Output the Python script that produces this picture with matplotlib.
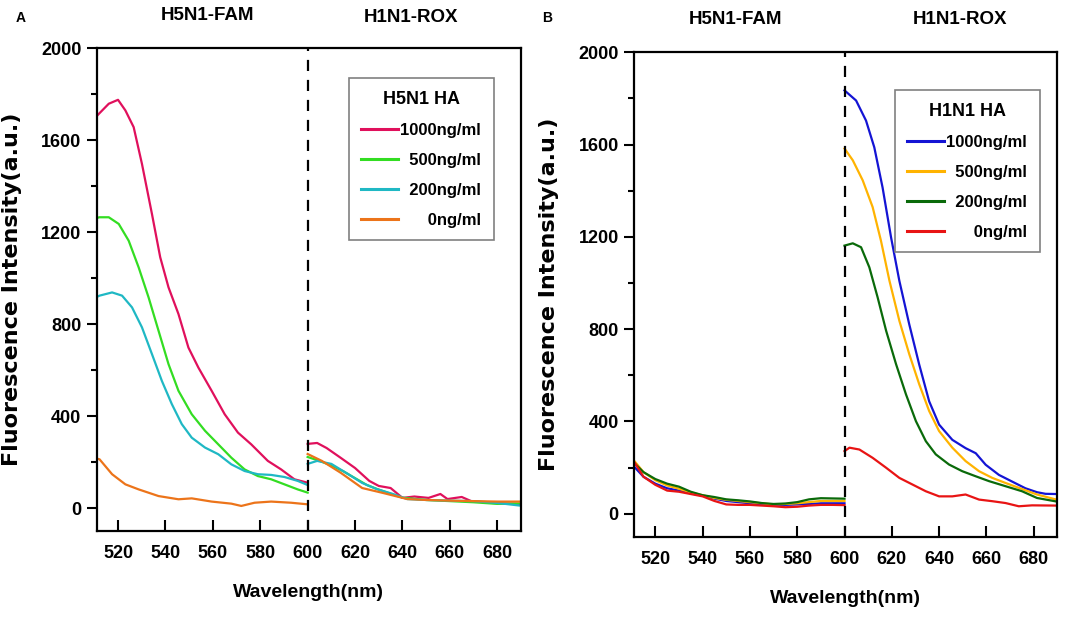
import matplotlib.pyplot as plt
from matplotlib.ticker import MultipleLocator

bold_font = ['Liberation Sans', 'DejaVu Sans']

# ---------------- panel A : H5N1 HA ----------------
a_labels = ["1000ng/ml", "500ng/ml", "200ng/ml", "0ng/ml"]
a_colors = ["#e0105c", "#33dd22", "#1fb8c4", "#ec741a"]

# FAM channel (511-600 nm)
a_fam_wl = {
    "1000": [511, 512.2, 516.1, 520.0, 523.1, 526.6, 530.1, 534.3, 537.8, 541.3, 545.5, 549.7,
             553.9, 559.5, 565.0, 570.6, 576.2, 583.2, 588.8, 594.4, 600],
    "500": [511, 512.2, 516.1, 520.3, 524.5, 528.7, 532.9, 537.1, 541.3, 545.5, 551.1, 556.7,
            562.3, 567.8, 573.4, 579.0, 584.6, 590.2, 595.8, 600],
    "200": [511, 512.2, 517.5, 521.7, 525.9, 530.1, 534.3, 538.5, 542.7, 546.9, 551.1, 556.7,
            562.3, 567.8, 573.4, 579.0, 584.6, 590.2, 595.8, 600],
    "0": [511, 512.2, 517.5, 523.1, 528.7, 537.1, 545.5, 551.1, 559.5, 567.8, 572.0, 577.6,
          584.6, 593.0, 600],
}
a_fam_val = {
    "1000": [1705, 1718, 1759, 1776, 1730, 1657, 1497, 1280, 1091, 960, 844, 698,
             611, 510, 408, 328, 277, 205, 168, 125, 110],
    "500": [1262, 1265, 1265, 1236, 1163, 1047, 916, 771, 626, 510, 408, 336,
            277, 219, 168, 139, 125, 103, 81, 67],
    "200": [918, 924, 938, 924, 873, 786, 670, 553, 452, 365, 306, 263,
            234, 190, 161, 147, 144, 135, 118, 100],
    "0": [215, 212, 147, 103, 81, 52, 38, 42, 28, 19, 9, 23, 28, 23, 16],
}
# ROX channel (600-690 nm)
a_rox_wl = {
    "1000": [600, 604, 608, 614, 620, 626, 630, 635, 640, 645, 651, 656, 659, 665, 669, 678, 690],
    "500": [600, 605, 610, 615, 620, 625, 630, 635, 640, 650, 660, 670, 680, 690],
    "200": [600, 604, 610, 617, 623, 629, 636, 642, 650, 660, 670, 680, 690],
    "0": [600, 606, 614, 623, 632, 642, 650, 660, 670, 680, 690],
}
a_rox_val = {
    "1000": [279, 283, 261, 218, 174, 118, 96, 87, 44, 50, 44, 61, 39, 48, 30, 22, 17],
    "500": [222, 205, 185, 160, 130, 100, 80, 62, 45, 35, 30, 25, 18, 20],
    "200": [192, 205, 192, 148, 109, 83, 61, 39, 35, 32, 30, 22, 10],
    "0": [235, 205, 153, 87, 65, 39, 35, 32, 30, 28, 28],
}

# ---------------- panel B : H1N1 HA ----------------
b_labels = ["1000ng/ml", "500ng/ml", "200ng/ml", "0ng/ml"]
b_colors = ["#1414d4", "#ffb300", "#0a6a0a", "#e81414"]

b_fam_wl = [511, 515, 520, 525, 530, 535, 540, 545, 550, 555, 560, 565, 570, 575, 580, 585, 590, 595, 600]
b_fam_val = {
    "1000": [204, 160, 130, 110, 100, 88, 78, 65, 55, 50, 45, 40, 38, 38, 40, 42, 45, 45, 45],
    "500": [230, 180, 145, 122, 108, 92, 80, 68, 60, 55, 50, 45, 40, 42, 45, 50, 55, 55, 55],
    "200": [220, 180, 150, 130, 117, 95, 80, 72, 62, 58, 53, 46, 42, 44, 50, 62, 67, 66, 65],
    "0": [225, 160, 125, 100, 95, 85, 75, 55, 40, 38, 38, 35, 32, 28, 30, 35, 38, 38, 37],
}
b_rox_wl = {
    "1000": [600, 604.9, 609.1, 612.6, 616.1, 619.7, 623.2, 627.4, 631.6, 635.8, 640, 645.6,
             651.2, 655.5, 659.7, 665.3, 670.9, 676.5, 681.4, 685, 690],
    "500": [600, 603.5, 607.7, 611.9, 615.4, 619, 623.2, 627.4, 631.6, 635.8, 640, 645.6,
            651.2, 656.9, 662.5, 668.1, 673.7, 681.4, 690],
    "200": [600, 603.5, 607, 610.5, 614, 617.6, 621.8, 626, 630.2, 634.4, 638.6, 644.2,
            649.8, 655.5, 661.1, 668.1, 675.1, 681.4, 690],
    "0": [600, 602.1, 606.3, 611.9, 617.6, 623.2, 628.8, 634.4, 640, 645.6, 651.2, 656.9,
          662.5, 668.1, 673.7, 679.3, 690],
}
b_rox_val = {
    "1000": [1835, 1791, 1704, 1588, 1414, 1197, 1009, 820, 646, 487, 386, 320,
             284, 262, 212, 168, 139, 110, 93, 86, 85],
    "500": [1583, 1532, 1445, 1329, 1184, 1010, 836, 691, 561, 445, 358, 286,
            228, 184, 155, 133, 112, 83, 60],
    "200": [1162, 1172, 1155, 1068, 938, 793, 648, 517, 401, 314, 257, 213,
            184, 162, 141, 119, 97, 68, 52],
    "0": [271, 286, 278, 242, 199, 155, 126, 97, 75, 75, 83, 61, 54, 46, 32, 36, 35],
}

keys = ["1000", "500", "200", "0"]

fig = plt.figure(figsize=(10.84, 6.22), dpi=100)
ax_a = fig.add_axes([0.0892, 0.1463, 0.3914, 0.776])
ax_b = fig.add_axes([0.5849, 0.1371, 0.3905, 0.7788])


def style_axes(ax):
    ax.set_xlim(511, 690)
    ax.set_ylim(-100, 2000)
    ax.set_xticks([520, 540, 560, 580, 600, 620, 640, 660, 680])
    ax.set_yticks([0, 400, 800, 1200, 1600, 2000])
    ax.yaxis.set_minor_locator(MultipleLocator(200))
    ax.tick_params(axis="x", direction="in", length=8, width=1.5, top=False, pad=10)
    ax.tick_params(axis="y", which="major", direction="out", length=7, width=1.5, right=False, pad=4)
    ax.tick_params(axis="y", which="minor", direction="out", length=4, width=1.5, right=False)
    for lab in ax.get_xticklabels() + ax.get_yticklabels():
        lab.set_family(bold_font)
        lab.set_fontweight("bold")
        lab.set_fontsize(13)
    for s in ax.spines.values():
        s.set_linewidth(1.6)
    ax.axvline(600, color="black", linestyle=(0, (5, 4)), linewidth=1.6)
    ax.set_xlabel("Wavelength(nm)", family=bold_font, fontweight="bold", fontsize=14, labelpad=16)
    ax.set_ylabel("Fluorescence Intensity(a.u.)", fontweight="bold", fontsize=16, labelpad=14)


def legend_text(label):
    pad = {"1000ng/ml": "", "500ng/ml": "  ", "200ng/ml": "  ", "0ng/ml": "      "}
    return pad[label] + label


def add_legend(ax, title, anchor):
    leg = ax.legend(title=title, loc="upper right", bbox_to_anchor=anchor, borderaxespad=0,
                    frameon=True, fancybox=False, edgecolor="#808080", framealpha=1,
                    prop={"family": bold_font, "weight": "bold", "size": 12},
                    handlelength=2.2, handletextpad=0.15, labelspacing=0.9, borderpad=0.75)
    leg.get_title().set_fontproperties({"family": bold_font, "weight": "bold", "size": 13})
    leg.get_frame().set_linewidth(1.2)
    for line in leg.get_lines():
        line.set_linewidth(2.2)
    return leg


# panel A
for k, lab, col in zip(keys, a_labels, a_colors):
    ax_a.plot(a_fam_wl[k], a_fam_val[k], color=col, linewidth=1.6, label=legend_text(lab))
    ax_a.plot(a_rox_wl[k], a_rox_val[k], color=col, linewidth=1.6)
style_axes(ax_a)
add_legend(ax_a, "H5N1 HA", (0.936, 0.938))

# panel B
for k, lab, col in zip(keys, b_labels, b_colors):
    ax_b.plot(b_fam_wl, b_fam_val[k], color=col, linewidth=1.6, label=legend_text(lab))
    ax_b.plot(b_rox_wl[k], b_rox_val[k], color=col, linewidth=1.6)
style_axes(ax_b)
add_legend(ax_b, "H1N1 HA", (0.959, 0.922))

# header texts
fig.text(20.5 / 1084, 1 - 18 / 622, "A", family=bold_font, fontweight="bold", fontsize=10, ha="center", va="center")
fig.text(547 / 1084, 1 - 18 / 622, "B", family=bold_font, fontweight="bold", fontsize=10, ha="center", va="center")
for x, y, t in [(207, 15, "H5N1-FAM"), (411, 17, "H1N1-ROX"), (735, 20, "H5N1-FAM"), (960, 20, "H1N1-ROX")]:
    fig.text(x / 1084, 1 - y / 622, t, family=bold_font, fontweight="bold", fontsize=13.5,
             ha="center", va="center")

fig.savefig("out.png", dpi=100)
